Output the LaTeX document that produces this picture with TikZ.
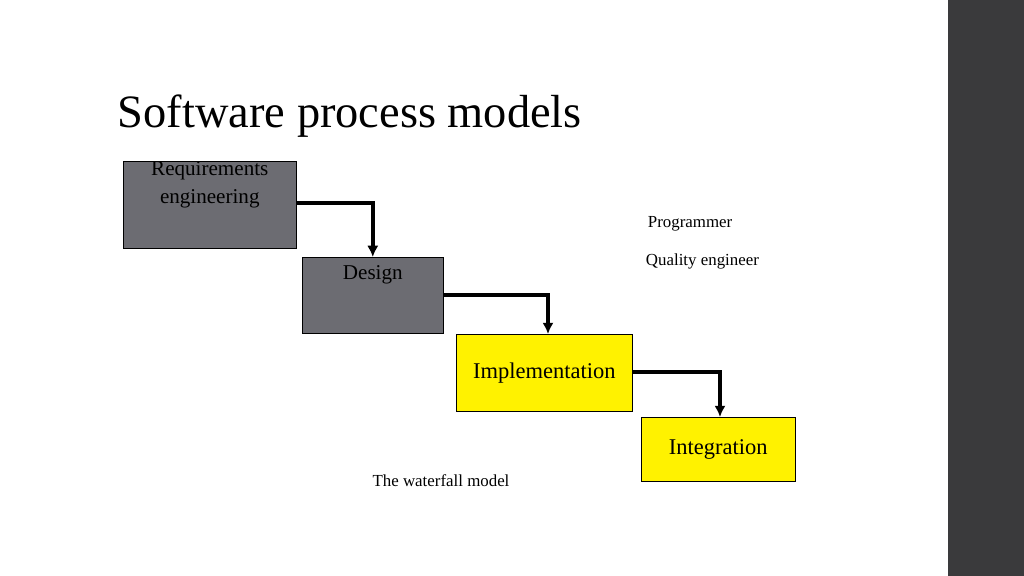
\documentclass[tikz,border=0pt]{standalone}
\usepackage{fontspec}
\setmainfont{Liberation Serif}
\usetikzlibrary{positioning, arrows.meta}
\definecolor{boxgray}{RGB}{108,108,114}
\definecolor{bargray}{RGB}{58,58,60}
\tikzset{
  stage/.style = {draw, thin, anchor = north west, inner sep = 0pt},
  flow/.style = {line width = 2.6pt, -{Latex[length=8pt,width=8pt]}}
}
\begin{document}
\begin{tikzpicture}[x = 0.025cm, y = -0.025cm]
        \useasboundingbox (0,0) rectangle (1024,576);
        %side bar
        \fill [bargray] (948,0) rectangle (1024,576);
        %title
        \node [anchor = base west, font = \fontsize{33}{38}\selectfont]
        (title)at(113,128){Software process models};
        %stages
        \node [stage, fill = boxgray, minimum width = 173*0.025cm, minimum height = 83*0.025cm,
        align = center, font = \fontsize{15}{20}\selectfont]
        (req)at(123,161){Requirements\\engineering\\[12pt]};
        \node [stage, fill = boxgray, minimum width = 141*0.025cm, minimum height = 76*0.025cm,
        align = center, font = \fontsize{15}{18}\selectfont]
        (des)at(302,257){Design\\[14pt]};
        \node [stage, fill = yellow, minimum width = 176*0.025cm, minimum height = 77*0.025cm,
        font = \fontsize{16}{19}\selectfont]
        (imp)at(456,334){Implementation};
        \node [stage, fill = yellow, minimum width = 154*0.025cm, minimum height = 64*0.025cm,
        font = \fontsize{16}{19}\selectfont]
        (int)at(641,417){Integration};
        %arrows
        \draw [flow](req.east |- 0,203) -| (des.north);
        \draw [flow](des.east |- 0,295) -| (imp.north -| 548,0);
        \draw [flow](imp.east |- 0,372) -| (int.north -| 720,0);
        %labels
        \node [anchor = west, font = \fontsize{12}{14}\selectfont]
        (prog)at(643,224){Programmer};
        \node [anchor = west, font = \fontsize{12}{14}\selectfont]
        (qa)at(641,261){Quality engineer};
        \node [font = \fontsize{12}{14}\selectfont]
        (cap)at(441,481){The waterfall model};
    \end{tikzpicture}
\end{document}
